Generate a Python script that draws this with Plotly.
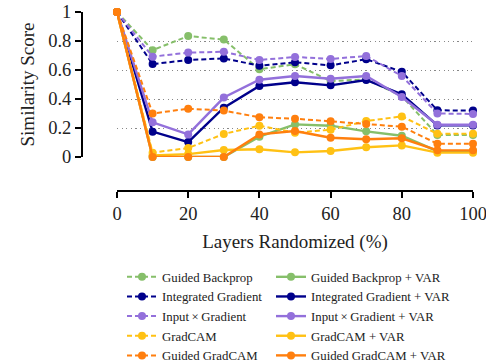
import plotly.graph_objects as go

layers = [0, 10, 20, 30, 40, 50, 60, 70, 80, 90, 100]

guided_backprop = [1, 0.737, 0.834, 0.81, 0.605, 0.64, 0.524, 0.535, 0.42, 0.152, 0.152]
guided_backprop_var = [1, 0.0, 0.0, 0.0, 0.14, 0.225, 0.216, 0.177, 0.147, 0.04, 0.04]
integrated_gradient = [1, 0.641, 0.669, 0.68, 0.63, 0.653, 0.632, 0.674, 0.588, 0.322, 0.32]
integrated_gradient_var = [1, 0.175, 0.103, 0.34, 0.49, 0.515, 0.494, 0.531, 0.432, 0.218, 0.218]
input_gradient = [1, 0.692, 0.72, 0.726, 0.669, 0.69, 0.676, 0.697, 0.559, 0.30, 0.297]
input_gradient_var = [1, 0.239, 0.156, 0.41, 0.533, 0.559, 0.54, 0.559, 0.414, 0.222, 0.222]
gradcam = [1, 0.03, 0.062, 0.159, 0.216, 0.168, 0.188, 0.248, 0.28, 0.16, 0.16]
gradcam_var = [1, 0.01, 0.02, 0.048, 0.053, 0.032, 0.041, 0.067, 0.08, 0.03, 0.03]
guided_gradcam = [1, 0.30, 0.333, 0.32, 0.274, 0.264, 0.246, 0.228, 0.209, 0.092, 0.092]
guided_gradcam_var = [1, 0.0, 0.0, 0.0, 0.156, 0.179, 0.133, 0.122, 0.129, 0.046, 0.046]

y_ticks = [0, 0.2, 0.4, 0.6, 0.8, 1]
x_ticks = [0, 20, 40, 60, 80, 100]

GREEN = "#86bf6a"
NAVY = "#00008b"
PURPLE = "#9370db"
YELLOW = "#ffc114"
ORANGE = "#ff7f0e"

series = [
    ("Guided Backprop", guided_backprop, GREEN, True),
    ("Guided Backprop + VAR", guided_backprop_var, GREEN, False),
    ("Integrated Gradient", integrated_gradient, NAVY, True),
    ("Integrated Gradient + VAR", integrated_gradient_var, NAVY, False),
    ("Input\u2009\u00d7\u2009Gradient", input_gradient, PURPLE, True),
    ("Input\u2009\u00d7\u2009Gradient + VAR", input_gradient_var, PURPLE, False),
    ("GradCAM", gradcam, YELLOW, True),
    ("GradCAM + VAR", gradcam_var, YELLOW, False),
    ("Guided GradCAM", guided_gradcam, ORANGE, True),
    ("Guided GradCAM + VAR", guided_gradcam_var, ORANGE, False),
]

fig = go.Figure()
for i, (name, vals, color, dashed) in enumerate(series):
    fig.add_trace(go.Scatter(
        x=layers, y=vals, name=name, mode="lines+markers",
        line=dict(color=color, width=2 if dashed else 2.4, dash="5px,3px" if dashed else "solid"),
        marker=dict(color=color, size=8),
        cliponaxis=False,
        legend="legend" if dashed else "legend2",
        legendrank=i + 1,
    ))

FONT = "'Liberation Serif', 'Times New Roman', Times, serif"
W, H = 486, 362
L, R, T, B = 60, 13, 12, 0
PW, PH = W - L - R, H - T - B


def px_x(p):
    return (p - L) / PW


def px_y(p):
    return 1 - (p - T) / PH


legend_common = dict(
    orientation="v", xanchor="left", yanchor="top",
    font=dict(size=12.8, family=FONT, color="#222222"),
    bgcolor="rgba(0,0,0,0)", tracegroupgap=0,
)

fig.update_layout(
    width=W, height=H,
    margin=dict(l=L, r=R, t=T, b=B, autoexpand=False),
    paper_bgcolor="white", plot_bgcolor="white",
    font=dict(family=FONT, color="#222222", size=18),
    xaxis=dict(
        domain=[px_x(117), 1],
        range=[0, 100], anchor="free", position=px_y(191),
        tickvals=x_ticks, ticks="outside", ticklen=6, tickwidth=1.5, tickcolor="black",
        showline=True, linecolor="black", linewidth=2,
        showgrid=False, zeroline=False,
        ticklabeloverflow="allow",
        tickfont=dict(size=18.5, family=FONT),
        title=dict(text="Layers Randomized (%)", font=dict(size=19, family=FONT), standoff=10),
    ),
    yaxis=dict(
        domain=[px_y(157), px_y(12)],
        range=[0, 1], anchor="free", position=px_x(82),
        tickvals=y_ticks, ticks="outside", ticklen=6, tickwidth=1.5, tickcolor="black",
        showline=True, linecolor="black", linewidth=2,
        showgrid=True, gridcolor="#888888", griddash="1.2px,3.4px", gridwidth=1.2,
        zeroline=False,
        ticklabeloverflow="allow",
        tickfont=dict(size=18.5, family=FONT),
        title=dict(text="Similarity Score", font=dict(size=19, family=FONT), standoff=8),
    ),
    legend=dict(x=px_x(122), y=px_y(262), **legend_common),
    legend2=dict(x=px_x(271), y=px_y(262), **legend_common),
    showlegend=True,
)

fig.write_html(
    "out.html",
    config={"displayModeBar": False},
    post_script="document.body.style.margin='0';document.body.style.overflow='hidden';",
)
